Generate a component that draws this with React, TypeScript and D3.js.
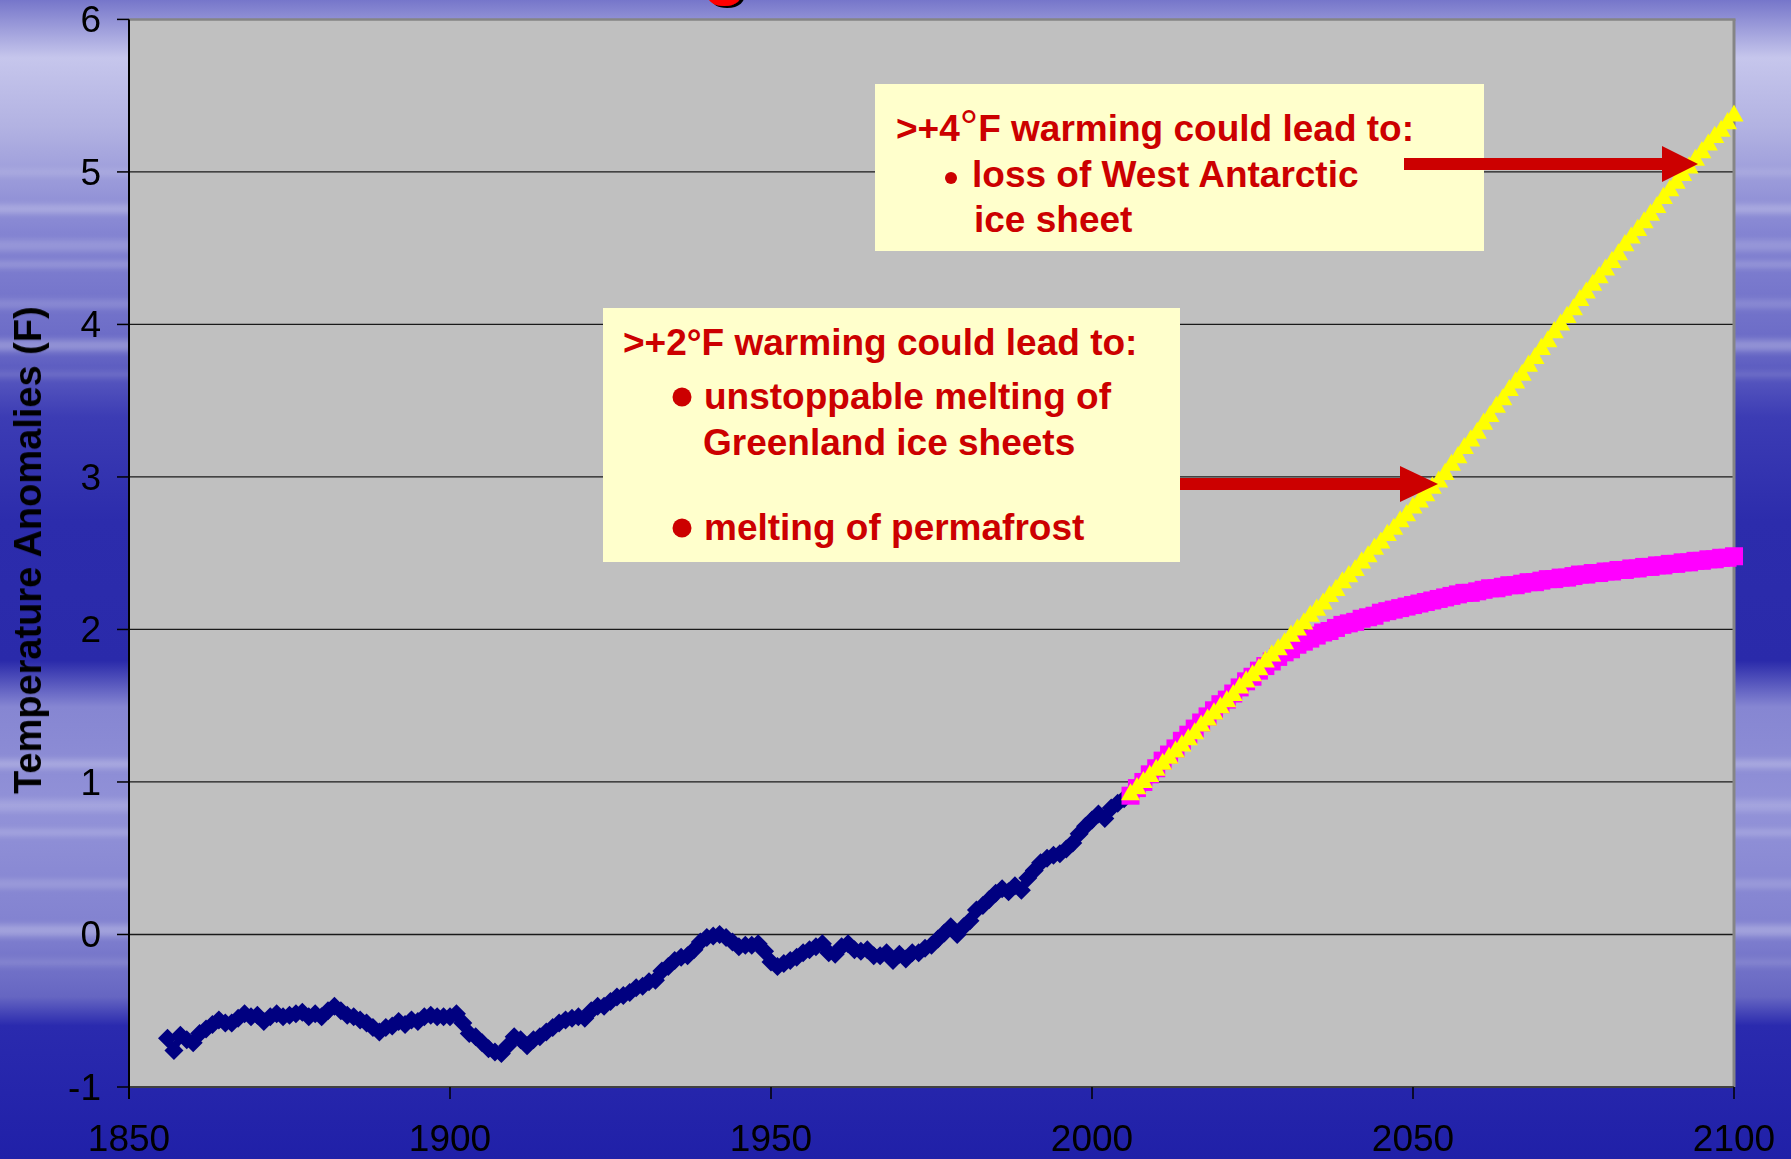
import React from "react";
import * as d3 from "d3";

const W = 1791;
const H = 1159;

// ---------- data ----------
const histStartYear = 1856;
const historical = [
  -0.68, -0.76, -0.66, -0.69, -0.71, -0.65, -0.62, -0.59, -0.56, -0.58,
  -0.58, -0.55, -0.52, -0.54, -0.53, -0.57, -0.54, -0.52, -0.54, -0.53,
  -0.52, -0.51, -0.54, -0.52, -0.54, -0.50, -0.47, -0.50, -0.53, -0.54,
  -0.56, -0.58, -0.61, -0.64, -0.61, -0.60, -0.57, -0.59, -0.56, -0.57,
  -0.54, -0.53, -0.54, -0.54, -0.54, -0.52, -0.58, -0.65, -0.67, -0.71,
  -0.75, -0.77, -0.78, -0.73, -0.67, -0.69, -0.73, -0.69, -0.67, -0.64,
  -0.61, -0.58, -0.56, -0.55, -0.54, -0.55, -0.50, -0.47, -0.47, -0.44,
  -0.41, -0.40, -0.38, -0.35, -0.34, -0.31, -0.30, -0.24, -0.21, -0.17,
  -0.15, -0.14, -0.10, -0.05, -0.02, -0.01, 0.00, -0.02, -0.05, -0.08,
  -0.07, -0.07, -0.06, -0.11, -0.18, -0.21, -0.19, -0.17, -0.15, -0.12,
  -0.10, -0.08, -0.06, -0.12, -0.13, -0.08, -0.06, -0.10, -0.11, -0.10,
  -0.14, -0.14, -0.12, -0.17, -0.13, -0.16, -0.12, -0.12, -0.09, -0.07,
  -0.03, 0.01, 0.05, 0.00, 0.05, 0.09, 0.16, 0.19, 0.23, 0.27,
  0.30, 0.28, 0.32, 0.29, 0.37, 0.42, 0.47, 0.50, 0.52, 0.53,
  0.56, 0.60, 0.66, 0.71, 0.75, 0.79, 0.76, 0.83, 0.86, 0.89,
];

const projStartYear = 2006;
const highScenario = [
  0.93, 0.97, 1.01, 1.05, 1.09, 1.13, 1.17, 1.21, 1.25, 1.29,
  1.33, 1.38, 1.42, 1.46, 1.50, 1.54, 1.58, 1.63, 1.67, 1.71,
  1.75, 1.80, 1.84, 1.88, 1.92, 1.97, 2.01, 2.05, 2.10, 2.14,
  2.18, 2.23, 2.27, 2.32, 2.36, 2.40, 2.45, 2.49, 2.54, 2.58,
  2.63, 2.67, 2.72, 2.76, 2.81, 2.85, 2.89, 2.94, 2.98, 3.03,
  3.09, 3.14, 3.20, 3.25, 3.30, 3.36, 3.41, 3.47, 3.52, 3.58,
  3.63, 3.68, 3.74, 3.79, 3.85, 3.90, 3.96, 4.01, 4.06, 4.11,
  4.17, 4.22, 4.27, 4.32, 4.37, 4.42, 4.47, 4.53, 4.58, 4.63,
  4.68, 4.73, 4.78, 4.84, 4.89, 4.94, 4.99, 5.04, 5.09, 5.14,
  5.19, 5.24, 5.28, 5.33, 5.38,
];
const stabilizedScenario = [
  0.91, 0.96, 1.00, 1.05, 1.09, 1.14, 1.18, 1.22, 1.27, 1.31,
  1.35, 1.39, 1.43, 1.47, 1.51, 1.54, 1.58, 1.62, 1.66, 1.69,
  1.73, 1.76, 1.79, 1.82, 1.85, 1.87, 1.90, 1.92, 1.94, 1.96,
  1.98, 1.99, 2.01, 2.03, 2.04, 2.05, 2.07, 2.08, 2.09, 2.11,
  2.12, 2.13, 2.14, 2.15, 2.16, 2.17, 2.18, 2.19, 2.20, 2.21,
  2.22, 2.23, 2.24, 2.24, 2.25, 2.26, 2.27, 2.27, 2.28, 2.29,
  2.29, 2.30, 2.31, 2.31, 2.32, 2.33, 2.33, 2.34, 2.34, 2.35,
  2.36, 2.36, 2.37, 2.37, 2.38, 2.38, 2.39, 2.39, 2.40, 2.40,
  2.41, 2.41, 2.42, 2.42, 2.43, 2.43, 2.44, 2.44, 2.45, 2.45,
  2.46, 2.46, 2.47, 2.47, 2.48,
];

const xTicks = [1850, 1900, 1950, 2000, 2050, 2100];
const yTicks = [-1, 0, 1, 2, 3, 4, 5, 6];
const yAxisTitle = "Temperature Anomalies (F)";

const box4Lines = ["loss of West Antarctic", "ice sheet"];
const box2Lines = ["unstoppable melting of", "Greenland ice sheets", "melting of permafrost"];

// ---------- layout ----------
const plot = { left: 129, right: 1734, top: 19.4, bottom: 1087 };
const FONT = "Arial, 'Liberation Sans', Helvetica, sans-serif";
const RED = "#CC0000";

export default function App() {
  const x = d3.scaleLinear().domain([1850, 2100]).range([plot.left, plot.right]);
  const y = d3.scaleLinear().domain([-1, 6]).range([plot.bottom, plot.top]);

  const hist = historical.map((v, i) => ({ yr: histStartYear + i, v }));
  const high = highScenario.map((v, i) => ({ yr: projStartYear + i, v }));
  const stab = stabilizedScenario.map((v, i) => ({ yr: projStartYear + i, v }));

  const line = d3
    .line<{ yr: number; v: number }>()
    .x((d) => x(d.yr))
    .y((d) => y(d.v));

  const diamond = (r: number) => `M0,${-r}L${r},0L0,${r}L${-r},0Z`;
  const tri = (r: number) => `M0,${-r}L${r},${r * 0.8}L${-r},${r * 0.8}Z`;

  return (
    <svg
      width={W}
      height={H}
      style={{ position: "absolute", left: 0, top: 0, display: "block" }}
      fontFamily={FONT}
    >
      <defs>
        <linearGradient id="bg" x1="0" y1="0" x2="0" y2="1">
          <stop offset="0" stopColor="#7676ca" />
          <stop offset="0.05" stopColor="#c6c6ec" />
          <stop offset="0.11" stopColor="#b2b2e2" />
          <stop offset="0.2" stopColor="#8484d2" />
          <stop offset="0.3" stopColor="#6a6ac6" />
          <stop offset="0.36" stopColor="#3c3cb4" />
          <stop offset="0.45" stopColor="#2c2cac" />
          <stop offset="0.57" stopColor="#2a2aaa" />
          <stop offset="0.61" stopColor="#8686d2" />
          <stop offset="0.7" stopColor="#9292d8" />
          <stop offset="0.8" stopColor="#8282d0" />
          <stop offset="0.86" stopColor="#6666c2" />
          <stop offset="0.885" stopColor="#2a2aae" />
          <stop offset="1" stopColor="#2020a8" />
        </linearGradient>
        <filter id="blur" x="-20%" y="-200%" width="140%" height="500%">
          <feGaussianBlur stdDeviation="4 3" />
        </filter>
        <filter id="shadow" x="-20%" y="-20%" width="140%" height="140%">
          <feDropShadow dx="3" dy="2" stdDeviation="0" floodColor="#000" />
        </filter>
      </defs>

      {/* background */}
      <rect x={0} y={0} width={W} height={H} fill="url(#bg)" />
      <g filter="url(#blur)" fill="#ffffff">
        {[170, 205, 240, 262, 300, 340, 372, 760, 800, 830, 880, 925, 960].map((yy, i) => (
          <rect key={i} x={-20} y={yy} width={W + 40} height={5 + (i % 3) * 3} opacity={0.18 + (i % 2) * 0.1} />
        ))}
      </g>

      {/* title remnant (clipped at top) */}
      <text
        x={725}
        y={-9}
        textAnchor="middle"
        fontSize={74}
        fontWeight="bold"
        fill="#FF0000"
        filter="url(#shadow)"
      >
        g
      </text>

      {/* plot area */}
      <rect
        x={plot.left}
        y={plot.top}
        width={plot.right - plot.left}
        height={plot.bottom - plot.top}
        fill="#C0C0C0"
      />
      {/* gridlines */}
      {yTicks
        .filter((t) => t > -1 && t < 6)
        .map((t) => (
          <line key={t} x1={plot.left} x2={plot.right} y1={y(t)} y2={y(t)} stroke="#1a1a1a" strokeWidth={1.3} />
        ))}
      {/* borders */}
      <line x1={plot.left} x2={plot.right + 1.5} y1={plot.top} y2={plot.top} stroke="#858585" strokeWidth={2.5} />
      <line x1={plot.right} x2={plot.right} y1={plot.top} y2={plot.bottom} stroke="#858585" strokeWidth={3} />
      <line x1={plot.left} x2={plot.right} y1={plot.bottom} y2={plot.bottom} stroke="#404040" strokeWidth={2} />
      <line x1={plot.left} x2={plot.left} y1={plot.top} y2={plot.bottom + 12} stroke="#000" strokeWidth={2} />

      {/* ticks */}
      {yTicks.map((t) => (
        <g key={t}>
          <line x1={plot.left - 12} x2={plot.left} y1={y(t)} y2={y(t)} stroke="#000" strokeWidth={1.5} />
          <text x={101} y={y(t)} dy="0.35em" textAnchor="end" fontSize={37} fill="#000">
            {t}
          </text>
        </g>
      ))}
      {xTicks.map((t) => (
        <g key={t}>
          <line x1={x(t)} x2={x(t)} y1={plot.bottom} y2={plot.bottom + 12} stroke="#000" strokeWidth={1.5} />
          <text x={x(t)} y={1151} textAnchor="middle" fontSize={37} fill="#000">
            {t}
          </text>
        </g>
      ))}

      {/* y axis title */}
      <text
        transform={`translate(41, ${(plot.top + plot.bottom) / 2 - 3}) rotate(-90)`}
        textAnchor="middle"
        fontSize={38}
        fontWeight="bold"
        fill="#000"
      >
        {yAxisTitle}
      </text>

      {/* historical series */}
      <path d={line(hist) ?? ""} fill="none" stroke="#000080" strokeWidth={7} strokeLinejoin="round" />
      {hist.map((d) => (
        <path key={d.yr} d={diamond(9.5)} transform={`translate(${x(d.yr)},${y(d.v)})`} fill="#000080" />
      ))}

      {/* stabilized scenario (magenta squares) */}
      <path d={line(stab) ?? ""} fill="none" stroke="#FF00FF" strokeWidth={8} />
      {stab.map((d) => (
        <rect key={d.yr} x={x(d.yr) - 9} y={y(d.v) - 9} width={18} height={18} fill="#FF00FF" />
      ))}

      {/* high scenario (yellow triangles) */}
      <path d={line(high) ?? ""} fill="none" stroke="#FFFF00" strokeWidth={6} />
      {high.map((d) => (
        <path key={d.yr} d={tri(9.5)} transform={`translate(${x(d.yr)},${y(d.v)})`} fill="#FFFF00" />
      ))}

      {/* annotation box +4F */}
      <rect x={875} y={84} width={609} height={167} fill="#FFFFCC" />
      <text x={896} y={141} fontSize={37} fontWeight="bold" fill={RED}>
        {">+4"}
        <tspan fontWeight="normal" fontSize={46} dy={2}>°</tspan>
        <tspan dy={-2}>F warming could lead to:</tspan>
      </text>
      <circle cx={951} cy={178} r={6} fill={RED} />
      <text x={972} y={187} fontSize={37} fontWeight="bold" fill={RED}>
        {box4Lines[0]}
      </text>
      <text x={974} y={232} fontSize={37} fontWeight="bold" fill={RED}>
        {box4Lines[1]}
      </text>

      {/* arrow from +4F box */}
      <rect x={1404} y={158} width={260} height={12} fill={RED} />
      <path d="M1662,146 L1698,164 L1662,182 Z" fill={RED} />

      {/* annotation box +2F */}
      <rect x={603} y={308} width={577} height={254} fill="#FFFFCC" />
      <text x={623} y={355} fontSize={37} fontWeight="bold" fill={RED}>
        {">+2°F warming could lead to:"}
      </text>
      <circle cx={682} cy={397} r={9.5} fill={RED} />
      <text x={704} y={409} fontSize={37} fontWeight="bold" fill={RED}>
        {box2Lines[0]}
      </text>
      <text x={703} y={455} fontSize={37} fontWeight="bold" fill={RED}>
        {box2Lines[1]}
      </text>
      <circle cx={682} cy={528} r={9.5} fill={RED} />
      <text x={704} y={540} fontSize={37} fontWeight="bold" fill={RED}>
        {box2Lines[2]}
      </text>

      {/* arrow from +2F box */}
      <rect x={1180} y={478} width={222} height={12} fill={RED} />
      <path d="M1400,466 L1438,484 L1400,502 Z" fill={RED} />
    </svg>
  );
}
